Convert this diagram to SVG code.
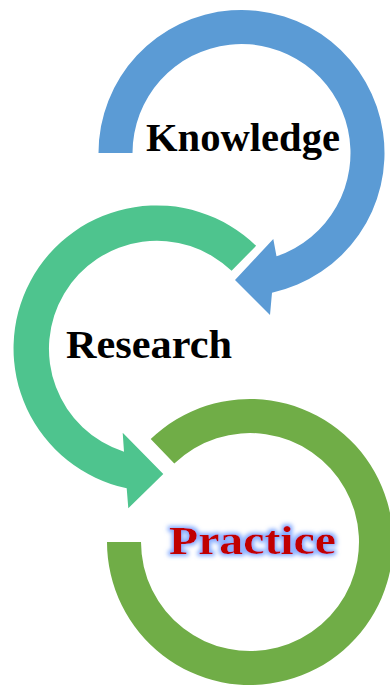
<svg xmlns="http://www.w3.org/2000/svg" width="390" height="686" viewBox="0 0 390 686">
  <style>
    .lbl { font-family: "Liberation Serif", "Times New Roman", serif; font-weight: bold; font-size: 40px; fill: #000000; }
    .blue { fill: #5B9BD5; }
    .teal { fill: #4EC48E; }
    .olive { fill: #70AD47; }
    .practice { fill: #C00000; }
  </style>
  <defs>
    <filter id="glow" x="-20%" y="-40%" width="140%" height="180%">
      <feMorphology in="SourceAlpha" operator="dilate" radius="2" result="d"/>
      <feGaussianBlur in="d" stdDeviation="2.2" result="b"/>
      <feFlood flood-color="#6E9CFF" flood-opacity="0.85"/>
      <feComposite in2="b" operator="in" result="g"/>
      <feMerge>
        <feMergeNode in="g"/>
        <feMergeNode in="SourceGraphic"/>
      </feMerge>
    </filter>
  </defs>
  <rect width="390" height="686" fill="#FFFFFF"/>
  <g id="connectors">
    <path id="arrow-knowledge" class="blue" d="M 98.5,153 A 143 143 0 1 1 272,292.7 L 270,315 L 235,280 L 273.3,239 L 276.5,256.3 A 109 109 0 1 0 132.5,153 Z"/>
    <path id="arrow-research" class="teal" d="M 256.1,245.8 A 143 143 0 1 0 126.7,488.3 L 128.3,508.3 L 163.3,474 L 122.7,432.7 L 124,451.7 A 108 108 0 1 1 231.6,270.8 Z"/>
    <path id="ring-practice" class="olive" d="M 107,542 A 143 143 0 1 0 150.7,439.1 L 174.3,463.6 A 109 109 0 1 1 141,542 Z"/>
  </g>
  <g id="node-knowledge">
    <text class="lbl" x="146" y="151" font-size="41" textLength="194" lengthAdjust="spacingAndGlyphs">Knowledge</text>
  </g>
  <g id="node-research">
    <text class="lbl" x="66" y="358" font-size="42" textLength="166" lengthAdjust="spacingAndGlyphs">Research</text>
  </g>
  <g id="node-practice">
    <text class="lbl practice" x="169" y="554" font-size="47" textLength="167" lengthAdjust="spacingAndGlyphs" filter="url(#glow)">Practice</text>
  </g>
</svg>
